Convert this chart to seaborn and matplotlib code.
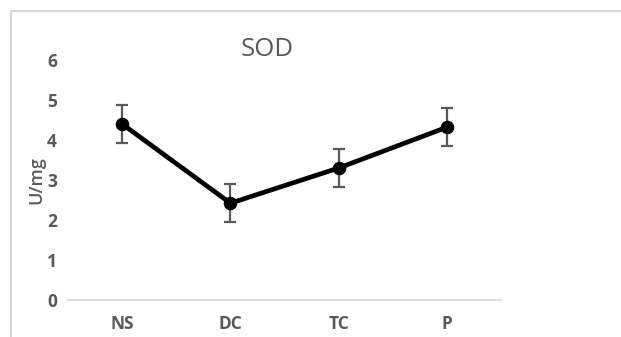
import matplotlib
matplotlib.use("Agg")
import matplotlib.pyplot as plt
import seaborn as sns
import pandas as pd
from matplotlib.patches import Rectangle

groups = ["NS", "DC", "TC", "P"]
sod_mean = [4.4, 2.42, 3.3, 4.32]
sod_err = [0.47, 0.47, 0.47, 0.47]

df = pd.DataFrame({"Group": groups, "SOD": sod_mean, "err": sod_err})

sns.set_style("white")
plt.rcParams["font.family"] = ["Open Sans", "DejaVu Sans"]

fig = plt.figure(figsize=(6.21, 3.37), dpi=100)
ax = fig.add_axes([0.1095, 0.1098, 0.6975, 0.7122])

# chart frame like the spreadsheet export
fig.patches.append(Rectangle((11 / 621, -0.1), 1.2, 1.1 - 11 / 337, transform=fig.transFigure,
                             fill=False, edgecolor="#d9d9d9", linewidth=1.5))

ax.errorbar(df["Group"], df["SOD"], yerr=df["err"], fmt="none", ecolor="#595959",
            elinewidth=1.6, capsize=4.5, capthick=1.6, zorder=2)
sns.lineplot(data=df, x="Group", y="SOD", sort=False, color="black", linewidth=3.4,
             marker="o", markersize=9, markeredgecolor="black", ax=ax, zorder=3)

ax.set_xlim(-0.5, 3.5)
ax.set_ylim(0, 6)
ax.set_yticks(range(0, 7))
for s in ["top", "right", "left"]:
    ax.spines[s].set_visible(False)
ax.spines["bottom"].set_color("#d9d9d9")
ax.spines["bottom"].set_linewidth(1.2)
ax.tick_params(axis="both", length=0, labelsize=12.5, labelcolor="#595959")
ax.tick_params(axis="y", pad=8)
ax.tick_params(axis="x", pad=11)
for lbl in ax.get_xticklabels() + ax.get_yticklabels():
    lbl.set_fontweight("bold")

ax.set_xlabel("")
ax.set_ylabel("U/mg", fontsize=13, color="#595959", fontweight="semibold", labelpad=1)
ax.set_title("SOD", fontsize=18.5, color="#595959", pad=3, x=0.46)

fig.savefig("out.png", dpi=100)
